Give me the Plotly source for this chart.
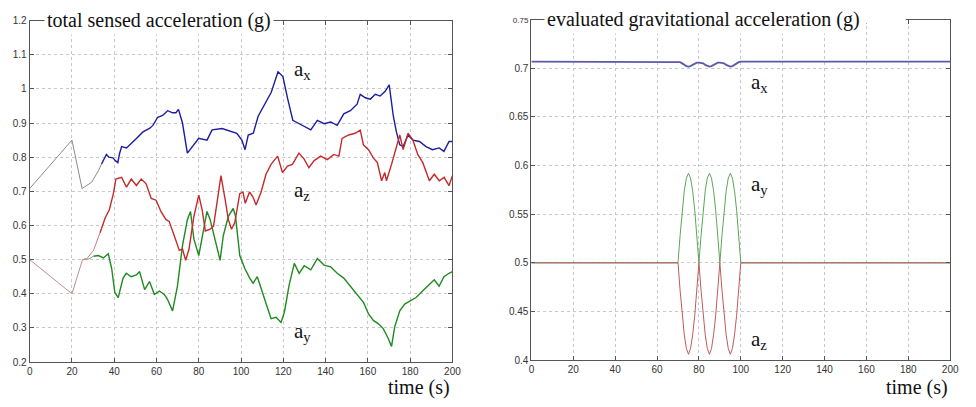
import plotly.graph_objects as go

# ---------------- data: left panel (total sensed acceleration) ----------------
ax_init_t = [0, 20, 24.8, 29.4, 32.5, 34]
ax_init_v = [0.708, 0.85, 0.708, 0.727, 0.76, 0.78]

ax_t = [34, 35.2, 36.3, 37.5, 39.4, 40.5, 41.7, 42.5, 43.5, 45.8,
        47.4, 50.5, 53.6, 56.7, 58.3, 60.6, 62.9, 65.3, 67.6, 69.2,
        70.4, 72.3, 74.6, 76.9, 80, 83.9, 86.3, 91, 95.6, 98,
        100.4, 101.9, 103.4, 105.8, 108.1, 111.2, 114.3, 117.5, 119.8, 122.1,
        124.5, 126, 129.9, 133, 136.1, 139.3, 142.4, 145.5, 148.6, 151.7,
        154.9, 156.4, 158.8, 161.2, 163.5, 165.8, 168.2, 170.1, 170.8, 172,
        173.5, 175.1, 176.7, 179, 181.3, 184.4, 187.5, 190.6, 193.7, 196,
        198.4, 200]
ax_v = [0.78, 0.797, 0.808, 0.80, 0.798, 0.79, 0.784, 0.81, 0.831, 0.827,
        0.836, 0.855, 0.874, 0.884, 0.893, 0.917, 0.922, 0.936, 0.93, 0.93,
        0.94, 0.90, 0.812, 0.83, 0.855, 0.85, 0.88, 0.884, 0.874, 0.87,
        0.85, 0.822, 0.865, 0.87, 0.92, 0.955, 0.99, 1.05, 1.036, 0.97,
        0.908, 0.903, 0.889, 0.88, 0.908, 0.898, 0.903, 0.893, 0.927, 0.936,
        0.955, 0.984, 0.974, 0.97, 0.984, 0.979, 0.993, 1.012, 0.979, 0.922,
        0.874, 0.836, 0.831, 0.865, 0.85, 0.846, 0.831, 0.822, 0.827, 0.817,
        0.846, 0.846]

yz_init_t = [0, 20, 25]
yz_init_v = [0.5, 0.4, 0.5]

az_init_t = [25, 27.1, 30.2, 33.3]
az_init_v = [0.5, 0.503, 0.527, 0.579]

az_t = [33.3, 35.7, 37.7, 39.6, 40.8, 43.5, 45.8, 48.1, 50.5, 52.8,
        55.1, 57.5, 59.8, 62.1, 64.5, 66, 68.4, 70.8, 72.3, 73.8,
        75.4, 77.7, 80, 81.6, 83.1, 85.4, 87, 88.5, 90.5, 92.4,
        94, 95.5, 97, 99.4, 100.9, 102, 104, 105.6, 107.1, 109.5,
        111.8, 114.2, 117.3, 119.6, 122, 124.3, 127.4, 129.8, 132.1, 134.6,
        137.7, 140.8, 143.9, 146.3, 147.8, 150.9, 154, 156.4, 157.9, 160.3,
        162.6, 164.5, 166.5, 168, 168.8, 171.2, 173.5, 175.1, 176.7, 179,
        181.3, 183.6, 186, 189.1, 191.4, 193.8, 196.1, 198.4, 200]
az_v = [0.579, 0.622, 0.646, 0.693, 0.736, 0.741, 0.712, 0.736, 0.717, 0.736,
        0.722, 0.679, 0.674, 0.641, 0.617, 0.612, 0.57, 0.527, 0.531, 0.498,
        0.531, 0.627, 0.689, 0.646, 0.584, 0.589, 0.598, 0.665, 0.746, 0.679,
        0.617, 0.589, 0.608, 0.693, 0.698, 0.665, 0.698, 0.684, 0.66, 0.698,
        0.75, 0.779, 0.803, 0.755, 0.774, 0.779, 0.812, 0.795, 0.769, 0.79,
        0.803, 0.793, 0.808, 0.803, 0.855, 0.865, 0.87, 0.879, 0.836, 0.822,
        0.798, 0.784, 0.731, 0.755, 0.731, 0.779, 0.827, 0.865, 0.822, 0.87,
        0.85, 0.808, 0.784, 0.731, 0.75, 0.731, 0.741, 0.717, 0.746]

ay_init_t = [25, 28, 30.2]
ay_init_v = [0.5, 0.502, 0.51]

ay_t = [30.2, 32.5, 34.9, 36.4, 37.2, 38.8, 40.3, 41.9, 44.2, 45.7,
        48, 50.5, 52, 54.4, 56.7, 59, 61.4, 63.7, 65.2, 67.6,
        69.9, 72.3, 74.6, 76.1, 77.7, 80, 81.6, 83.9, 85.4, 87.8,
        90.1, 91.6, 94, 96.3, 97.4, 99.4, 101.8, 104.1, 105.7, 107.7,
        109.5, 111.9, 114.2, 116.6, 118.9, 120.5, 122.8, 125.2, 127.5, 129.9,
        133, 136.1, 139.3, 142.4, 145.5, 148.6, 151.7, 154.9, 158, 160.3,
        162.6, 165, 167.3, 169.6, 171.2, 172.7, 175.1, 177.4, 179.7, 182.8,
        185.9, 189, 191.4, 193.7, 196, 198.4, 200]
ay_v = [0.51, 0.512, 0.505, 0.514, 0.517, 0.474, 0.403, 0.389, 0.446, 0.46,
        0.45, 0.455, 0.465, 0.412, 0.436, 0.398, 0.408, 0.398, 0.384, 0.35,
        0.422, 0.541, 0.617, 0.641, 0.56, 0.512, 0.57, 0.641, 0.617, 0.56,
        0.498, 0.57, 0.627, 0.65, 0.627, 0.512, 0.474, 0.446, 0.431, 0.45,
        0.417, 0.37, 0.327, 0.331, 0.316, 0.346, 0.427, 0.489, 0.46, 0.482,
        0.47, 0.503, 0.484, 0.479, 0.46, 0.446, 0.422, 0.398, 0.374, 0.341,
        0.322, 0.312, 0.298, 0.27, 0.246, 0.303, 0.35, 0.37, 0.379, 0.389,
        0.408, 0.427, 0.441, 0.422, 0.45, 0.46, 0.465]

# ---------------- data: right panel (evaluated gravitational acceleration) ----------------
g_t = [0, 70, 71, 72, 73, 74, 75, 76, 77, 78, 79, 80,
       81, 82, 83, 84, 85, 86, 87, 88, 89, 90,
       91, 92, 93, 94, 95, 96, 97, 98, 99, 100, 200]
gx_v = [0.7067, 0.7067, 0.7062, 0.705, 0.7035, 0.7022, 0.7017, 0.7022, 0.7035, 0.705, 0.7057, 0.7058,
        0.7057, 0.705, 0.7035, 0.7022, 0.7017, 0.7022, 0.7035, 0.705, 0.7057, 0.7058,
        0.7057, 0.705, 0.7035, 0.7022, 0.7017, 0.7022, 0.7035, 0.705, 0.7062, 0.7067, 0.7067]
gy_v = [0.5, 0.5, 0.528, 0.554, 0.574, 0.587, 0.592, 0.587, 0.574, 0.554, 0.528, 0.5,
        0.528, 0.554, 0.574, 0.587, 0.592, 0.587, 0.574, 0.554, 0.528, 0.5,
        0.528, 0.554, 0.574, 0.587, 0.592, 0.587, 0.574, 0.554, 0.528, 0.5, 0.5]
gz_v = [0.5, 0.5, 0.472, 0.446, 0.426, 0.412, 0.406, 0.412, 0.426, 0.446, 0.472, 0.5,
        0.472, 0.446, 0.426, 0.412, 0.406, 0.412, 0.426, 0.446, 0.472, 0.5,
        0.472, 0.446, 0.426, 0.412, 0.406, 0.412, 0.426, 0.446, 0.472, 0.5, 0.5]

x_ticks = [0, 20, 40, 60, 80, 100, 120, 140, 160, 180, 200]
left_yticks = [0.2, 0.3, 0.4, 0.5, 0.6, 0.7, 0.8, 0.9, 1.0, 1.1, 1.2]
left_ylabels = ["0.2", "0.3", "0.4", "0.5", "0.6", "0.7", "0.8", "0.9", "1", "1.1", "1.2"]
right_yticks = [0.4, 0.45, 0.5, 0.55, 0.6, 0.65, 0.7, 0.75]
right_ylabels = ["0.4", "0.45", "0.5", "0.55", "0.6", "0.65", "0.7",
                 "<span style='font-size:8px'>0.75</span>"]

left_title = "total sensed acceleration (g)"
right_title = "evaluated gravitational acceleration (g)"
x_label = "time (s)"

# ---------------- figure ----------------
W, H = 976, 407
BLUE, RED, GREEN = "#1c1ca0", "#c42a2a", "#1f8a1f"

fig = go.Figure()

def add(x, y, color, width, xa="x", ya="y"):
    fig.add_trace(go.Scatter(x=x, y=y, mode="lines", xaxis=xa, yaxis=ya,
                             line=dict(color=color, width=width),
                             hoverinfo="skip", showlegend=False))

add(ax_init_t, ax_init_v, "#8a8a8a", 1)
add(ax_t, ax_v, BLUE, 1.4)
add(yz_init_t, yz_init_v, "#b89090", 1)
add(ay_init_t, ay_init_v, "#8a9a8a", 1)
add(az_init_t, az_init_v, "#c08080", 1)
add(ay_t, ay_v, GREEN, 1.4)
add(az_t, az_v, RED, 1.4)

add(g_t, gx_v, "#5a5aa6", 1.8, "x2", "y2")
add(g_t, gy_v, "#5aa65a", 1, "x2", "y2")
add(g_t, gz_v, "#c05a5a", 1, "x2", "y2")

tickfont = dict(family="Liberation Sans, Arial", size=10, color="#333")
axcommon = dict(showline=True, linecolor="#555", linewidth=1, mirror="ticks",
                ticks="inside", ticklen=4, tickcolor="#555",
                showgrid=True, gridcolor="#c8c8c8", griddash="dot", gridwidth=1,
                zeroline=False, tickfont=tickfont)

L0, L1 = 27 / W, 455 / W
R0, R1 = 535 / W, 959 / W
LB, LT = (H - 367) / H, (H - 16) / H
RB, RT = (H - 365) / H, (H - 15) / H

fig.update_layout(
    width=W, height=H, margin=dict(l=0, r=0, t=0, b=0),
    paper_bgcolor="white", plot_bgcolor="white",
    xaxis=dict(domain=[L0, L1], range=[0, 200], tickvals=x_ticks, anchor="y", **axcommon),
    yaxis=dict(domain=[LB, LT], range=[0.2, 1.2], tickvals=left_yticks,
               ticktext=left_ylabels, anchor="x", **axcommon),
    xaxis2=dict(domain=[R0, R1], range=[0, 200], tickvals=x_ticks, anchor="y2", **axcommon),
    yaxis2=dict(domain=[RB, RT], range=[0.4, 0.75], tickvals=right_yticks,
                ticktext=right_ylabels, anchor="x2", **axcommon),
)

serif = "Liberation Serif, Times New Roman, serif"

# white cover over part of right panel's top frame
fig.add_shape(type="rect", xref="paper", yref="paper",
              x0=850 / W, x1=914 / W, y0=RT - 4 / H, y1=RT + 4 / H,
              fillcolor="white", line=dict(width=0), layer="above")

annots = [
    (42 / W, LT, left_title),
    (548 / W, RT, right_title),
]
for xx, yy, txt in annots:
    fig.add_annotation(x=xx, y=yy, xref="paper", yref="paper",
                       text=txt, showarrow=False, xanchor="left", yanchor="middle",
                       font=dict(family=serif, size=20, color="#111"),
                       bgcolor="white", borderpad=2)

for xx in [L1, R1]:
    fig.add_annotation(x=xx, y=(H - 393) / H, xref="paper", yref="paper", text=x_label,
                       showarrow=False, xanchor="right", yanchor="middle",
                       font=dict(family=serif, size=20, color="#111"))

labels = [
    ("x", "y", 124, 1.055, "a<sub>x</sub>"),
    ("x", "y", 124, 0.70, "a<sub>z</sub>"),
    ("x", "y", 124, 0.288, "a<sub>y</sub>"),
    ("x2", "y2", 104, 0.685, "a<sub>x</sub>"),
    ("x2", "y2", 104, 0.58, "a<sub>y</sub>"),
    ("x2", "y2", 104, 0.421, "a<sub>z</sub>"),
]
for xr, yr, xv, yv, txt in labels:
    fig.add_annotation(x=xv, y=yv, xref=xr, yref=yr, text=txt, showarrow=False,
                       xanchor="left", yanchor="middle",
                       font=dict(family=serif, size=21, color="#111"))

fig.write_html("out.html")
